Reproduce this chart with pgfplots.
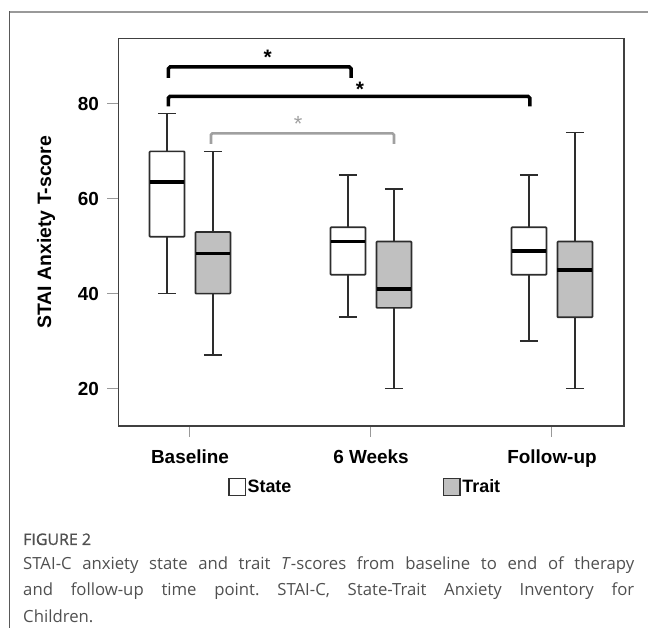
\documentclass[border=0pt]{standalone}
\usepackage{pgfplots}
\pgfplotsset{compat=1.18}
\usepackage{fontspec}
\setmainfont{Liberation Sans}
\newfontfamily\capfont{Open Sans}
\newfontfamily\capfontsb[FakeBold=1]{Open Sans}
\definecolor{traitfill}{RGB}{192,192,192}
\definecolor{boxline}{RGB}{45,45,45}
\definecolor{sigGray}{RGB}{160,160,160}
\definecolor{capText}{RGB}{80,80,80}
\definecolor{figLabel}{RGB}{80,80,80}
\pgfplotsset{
  whisk/.style={draw=boxline, line width=1.7bp, mark=none},
  bx/.style={draw=boxline, line width=1.7bp, mark=none, rounded corners=0.8bp},
  med/.style={draw=black, line width=3.6bp, mark=none},
}

\begin{document}
\begin{tikzpicture}
\useasboundingbox (0bp,0bp) rectangle (648bp,628bp);
% outer frame
\draw[line width=1.2bp, draw=black!40] (9.5bp,616bp) -- (648bp,616bp);
\draw[line width=1.2bp, draw=black!65] (9.5bp,616.6bp) -- (9.5bp,0bp);
\begin{axis}[
  at={(118.5bp,202bp)}, anchor=south west,
  scale only axis, width=505.5bp, height=387.5bp,
  xmin=-0.395, xmax=2.398, ymin=12.09, ymax=93.8,
  xtick={0,1,2}, xticklabels={Baseline,6 Weeks,Follow-up},
  ytick={20,40,60,80},
  tick pos=left,
  tick align=outside, major tick length=11bp,
  tick style={draw=black!40, line width=1bp},
  axis line style={draw=black!75, line width=1.6bp},
  ticklabel style={font=\bfseries\fontsize{19}{22}\selectfont},
  yticklabel style={xshift=-5bp},
  xticklabel style={yshift=-9bp},
  /pgf/number format/assume math mode=true,
  ylabel={STAI Anxiety T-score},
  ylabel style={font=\bfseries\fontsize{19.5}{22}\selectfont, at={(axis description cs:-0.1434,0.5)}, anchor=center},
  clip=false,
  legend columns=2,
  legend style={at={(axis description cs:0.2166,-0.157)}, anchor=west, draw=none, fill=none,
    inner sep=0pt, font=\bfseries\fontsize{18}{20}\selectfont,
    nodes={inner sep=1.5bp},
    /tikz/every even column/.append style={column sep=150bp}},
]
\addlegendimage{legend image code/.code={\draw[fill=white, draw=black!80, line width=1.4bp] (0bp,-8.5bp) rectangle (16.5bp,8.5bp);}}
\addlegendentry{State}
\addlegendimage{legend image code/.code={\draw[fill=traitfill, draw=black!80, line width=1.4bp] (0bp,-8.5bp) rectangle (16.5bp,8.5bp);}}
\addlegendentry{Trait}

% ---- Baseline, State: whiskers 40-78, box 52-70, median 63.5
\addplot[whisk] coordinates {(-0.127,40) (-0.127,52)};
\addplot[whisk] coordinates {(-0.127,70) (-0.127,78)};
\addplot[whisk] coordinates {(-0.177,40) (-0.077,40)};
\addplot[whisk] coordinates {(-0.177,78) (-0.077,78)};
\addplot[bx, fill=white] coordinates {(-0.2235,52) (-0.0305,52) (-0.0305,70) (-0.2235,70)} -- cycle;
\addplot[med] coordinates {(-0.2235,63.5) (-0.0305,63.5)};
% ---- Baseline, Trait: whiskers 27-70, box 40-53, median 48.5
\addplot[whisk] coordinates {(0.127,27) (0.127,40)};
\addplot[whisk] coordinates {(0.127,53) (0.127,70)};
\addplot[whisk] coordinates {(0.077,27) (0.177,27)};
\addplot[whisk] coordinates {(0.077,70) (0.177,70)};
\addplot[bx, fill=traitfill] coordinates {(0.0305,40) (0.2235,40) (0.2235,53) (0.0305,53)} -- cycle;
\addplot[med] coordinates {(0.0305,48.5) (0.2235,48.5)};
% ---- 6 Weeks, State: whiskers 35-65, box 44-54, median 51
\addplot[whisk] coordinates {(0.873,35) (0.873,44)};
\addplot[whisk] coordinates {(0.873,54) (0.873,65)};
\addplot[whisk] coordinates {(0.823,35) (0.923,35)};
\addplot[whisk] coordinates {(0.823,65) (0.923,65)};
\addplot[bx, fill=white] coordinates {(0.7765,44) (0.9695,44) (0.9695,54) (0.7765,54)} -- cycle;
\addplot[med] coordinates {(0.7765,51) (0.9695,51)};
% ---- 6 Weeks, Trait: whiskers 20-62, box 37-51, median 41
\addplot[whisk] coordinates {(1.127,20) (1.127,37)};
\addplot[whisk] coordinates {(1.127,51) (1.127,62)};
\addplot[whisk] coordinates {(1.077,20) (1.177,20)};
\addplot[whisk] coordinates {(1.077,62) (1.177,62)};
\addplot[bx, fill=traitfill] coordinates {(1.0305,37) (1.2235,37) (1.2235,51) (1.0305,51)} -- cycle;
\addplot[med] coordinates {(1.0305,41) (1.2235,41)};
% ---- Follow-up, State: whiskers 30-65, box 44-54, median 49
\addplot[whisk] coordinates {(1.873,30) (1.873,44)};
\addplot[whisk] coordinates {(1.873,54) (1.873,65)};
\addplot[whisk] coordinates {(1.823,30) (1.923,30)};
\addplot[whisk] coordinates {(1.823,65) (1.923,65)};
\addplot[bx, fill=white] coordinates {(1.7765,44) (1.9695,44) (1.9695,54) (1.7765,54)} -- cycle;
\addplot[med] coordinates {(1.7765,49) (1.9695,49)};
% ---- Follow-up, Trait: whiskers 20-74, box 35-51, median 45
\addplot[whisk] coordinates {(2.127,20) (2.127,35)};
\addplot[whisk] coordinates {(2.127,51) (2.127,74)};
\addplot[whisk] coordinates {(2.077,20) (2.177,20)};
\addplot[whisk] coordinates {(2.077,74) (2.177,74)};
\addplot[bx, fill=traitfill] coordinates {(2.0305,35) (2.2235,35) (2.2235,51) (2.0305,51)} -- cycle;
\addplot[med] coordinates {(2.0305,45) (2.2235,45)};

% significance brackets
\draw[line width=3.5bp, black, rounded corners=1.8bp] (axis cs:-0.12,85.5) -- (axis cs:-0.12,87.8) -- (axis cs:0.89,87.8) -- (axis cs:0.89,85.5);
\node[anchor=base, inner sep=0pt, font=\bfseries\fontsize{21}{21}\selectfont] at (axis cs:0.43,88.4) {*};
\draw[line width=3.5bp, black, rounded corners=1.8bp] (axis cs:-0.12,79.5) -- (axis cs:-0.12,81.6) -- (axis cs:1.878,81.6) -- (axis cs:1.878,79.5);
\node[anchor=base, inner sep=0pt, font=\bfseries\fontsize{21}{21}\selectfont] at (axis cs:0.939,81.5) {*};
\draw[line width=2.6bp, sigGray, rounded corners=1.5bp] (axis cs:0.116,71.6) -- (axis cs:0.116,73.8) -- (axis cs:1.127,73.8) -- (axis cs:1.127,71.6);
\node[anchor=base, inner sep=0pt, text=sigGray, font=\fontsize{22}{22}\selectfont] at (axis cs:0.597,74.1) {*};
\end{axis}
% caption
\node[anchor=base west, inner sep=0pt, font=\capfontsb\fontsize{16}{18}\selectfont, text=figLabel] at (23bp,83bp) {FIGURE 2};
\node[anchor=north west, inner sep=0pt, text width=611bp, align=justify, font=\capfont\fontsize{16.8}{27}\selectfont, text=capText] at (23bp,72bp)
 {\frenchspacing STAI-C anxiety state and trait \textit{T}-scores from baseline to end of therapy\linebreak
  and follow-up time point. STAI-C, State-Trait Anxiety Inventory for\linebreak
  Children.};
\end{tikzpicture}
\end{document}
